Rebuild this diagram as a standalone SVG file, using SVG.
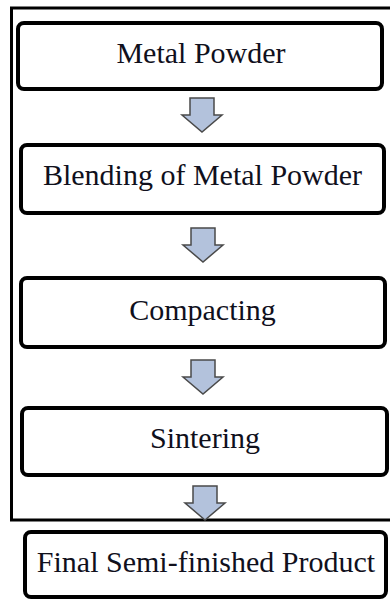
<svg xmlns="http://www.w3.org/2000/svg" width="390" height="599" viewBox="0 0 390 599">
<style>
.box{fill:#fff;stroke:#000;stroke-width:4}
.lbl{font-family:'Liberation Serif','DejaVu Serif',serif;font-size:30px;fill:#10101c;text-anchor:middle}
.arr{fill:#b3c2dc;stroke:#4a4a4a;stroke-width:1.5;stroke-linejoin:miter}
</style>
<defs>
<path id="dn" class="arr" d="M-12,0 H12 V17 H20 L0,34 L-20,17 H-12 Z"/>
</defs>
<path d="M420,8 H11.5 V520 H420" fill="none" stroke="#000" stroke-width="3"/>
<g id="connectors">
<use href="#dn" x="202" y="98"/>
<use href="#dn" x="203" y="228"/>
<use href="#dn" x="203" y="360"/>
<use href="#dn" x="205" y="486"/>
</g>
<g id="n1"><rect class="box" x="18" y="23" width="364" height="66" rx="6"/><text class="lbl" x="201" y="63">Metal Powder</text></g>
<g id="n2"><rect class="box" x="21" y="145" width="363" height="68" rx="6"/><text class="lbl" x="202.5" y="185">Blending of Metal Powder</text></g>
<g id="n3"><rect class="box" x="21" y="278" width="364" height="69" rx="6"/><text class="lbl" x="202.5" y="320">Compacting</text></g>
<g id="n4"><rect class="box" x="22" y="408" width="365" height="67" rx="6"/><text class="lbl" x="205" y="448">Sintering</text></g>
<g id="n5"><rect class="box" x="25" y="532" width="361" height="65" rx="6"/><text class="lbl" x="206" y="572">Final Semi-finished Product</text></g>
</svg>
